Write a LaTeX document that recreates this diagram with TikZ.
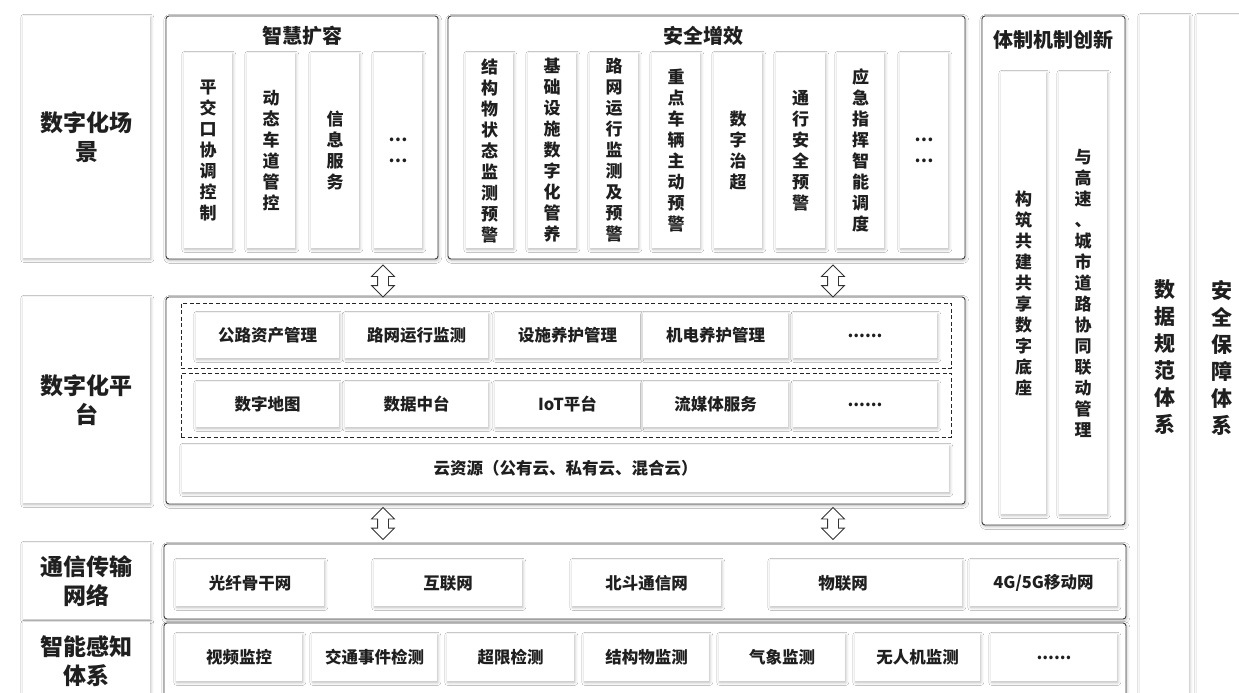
\documentclass[tikz,border=0pt]{standalone}
\usepackage{fontspec}
\setmainfont{Noto Sans CJK SC}
\usetikzlibrary{shapes.arrows,shadows.blur}
\tikzset{
  sh/.style={blur shadow={shadow xshift=0.8pt, shadow yshift=-1.4pt, shadow blur radius=3pt, shadow blur steps=6, shadow opacity=28}},
  lbl/.style={sh, fill=white, inner sep=0pt, align=center, text=black!88, font=\bfseries\fontsize{23}{29}\selectfont},
  sect/.style={sh, draw=black!75, line width=0.9pt, rounded corners=3pt, fill=white, inner sep=0pt},
  col/.style={sh, fill=white, inner sep=0pt, align=center, text=black!88, font=\bfseries\fontsize{17}{21}\selectfont},
  rcol/.style={sh, fill=white, inner sep=0pt, align=center, text=black!88, font=\bfseries\fontsize{21}{27}\selectfont},
  item/.style={sh, fill=white, inner sep=0pt, text=black!88, font=\bfseries\fontsize{16.5}{20}\selectfont},
  dbox/.style={draw=black!85, dash pattern=on 4pt off 2.5pt, line width=0.9pt, inner sep=0pt},
  ttl/.style={text=black!88, font=\bfseries\fontsize{20}{24}\selectfont},
  txt/.style={text=black!88, font=\bfseries\fontsize{16.5}{20}\selectfont},
  udarr/.style={shape=double arrow, rotate=90, draw=black!80, fill=white, line width=0.8pt, minimum height=32pt, inner sep=5pt, double arrow head extend=6pt},
}
% box by corners: \bx[extra]{style}{name}{x1}{y1}{x2}{y2}{text}
\newcommand\bx[8][]{\node[#2,#1, minimum width={(#6-#4)*1pt}, minimum height={(#7-#5)*1pt}] (#3) at ({(#4+#6)/2},{(#5+#7)/2}) {#8};}
\begin{document}
\begin{tikzpicture}[x=1pt,y=-1pt]
\fill[white] (0,0) rectangle (1239,693);
\useasboundingbox (0,0) rectangle (1239,693);

% left labels
\bx{lbl}{L1}{23}{16}{150}{258}{数字化场\\景}
\bx{lbl}{L2}{23}{297}{150}{503}{数字化平\\台}
\bx{lbl}{L3}{23}{543}{150}{619}{通信传输\\网络}
\bx{lbl}{L4}{23}{622}{150}{700}{智能感知\\体系}

% right columns
\bx{rcol}{R1}{1140}{15}{1189}{700}{数\\据\\规\\范\\体\\系}
\bx{rcol}{R2}{1197}{15}{1246}{700}{安\\全\\保\\障\\体\\系}

% section 1
\bx{sect}{S1}{166}{16}{438}{259}{}
\node[ttl] (T1) at (302,36) {智慧扩容};
\bx{col}{c11}{184}{53}{232}{248}{平\\交\\口\\协\\调\\控\\制}
\bx{col}{c12}{247}{53}{295}{248}{动\\态\\车\\道\\管\\控}
\bx{col}{c13}{311}{53}{359}{248}{信\\息\\服\\务}
\bx{col}{c14}{374}{53}{422}{248}{⋯\\⋯}

% section 2
\bx{sect}{S2}{448}{16}{965}{259}{}
\node[ttl] (T2) at (703,36) {安全增效};
\bx{col}{c21}{466}{53}{513}{248}{结\\构\\物\\状\\态\\监\\测\\预\\警}
\bx{col}{c22}{528}{53}{576}{248}{基\\础\\设\\施\\数\\字\\化\\管\\养}
\bx{col}{c23}{590}{53}{638}{248}{路\\网\\运\\行\\监\\测\\及\\预\\警}
\bx{col}{c24}{652}{53}{700}{248}{重\\点\\车\\辆\\主\\动\\预\\警}
\bx{col}{c25}{714}{53}{762}{248}{数\\字\\治\\超}
\bx{col}{c26}{776}{53}{825}{248}{通\\行\\安\\全\\预\\警}
\bx{col}{c27}{837}{53}{884}{248}{应\\急\\指\\挥\\智\\能\\调\\度}
\bx{col}{c28}{900}{53}{948}{248}{⋯\\⋯}

% section 3
\bx{sect}{S3}{982}{16}{1125}{525}{}
\node[ttl] (T3) at (1053.5,40) {体制机制创新};
\bx{col}{c31}{1001}{72}{1046}{514}{构\\筑\\共\\建\\共\\享\\数\\字\\底\\座}
\bx{col}{c32}{1059}{72}{1107}{514}{与\\高\\速\\、\\城\\市\\道\\路\\协\\同\\联\\动\\管\\理}

% platform
\bx{sect}{P}{166}{297}{965}{504}{}
\bx{dbox}{D1}{181}{303}{951}{368}{}
\bx{dbox}{D2}{181}{373}{951}{437}{}
\bx{item}{p11}{196}{313}{339}{358}{公路资产管理}
\bx{item}{p12}{345}{313}{488}{358}{路网运行监测}
\bx{item}{p13}{495}{313}{640}{358}{设施养护管理}
\bx{item}{p14}{643}{313}{788}{358}{机电养护管理}
\bx{item}{p15}{793}{313}{937}{358}{......}
\bx{item}{p21}{196}{382}{339}{427}{数字地图}
\bx{item}{p22}{345}{382}{488}{427}{数据中台}
\bx{item}{p23}{495}{382}{640}{427}{IoT平台}
\bx{item}{p24}{643}{382}{788}{427}{流媒体服务}
\bx{item}{p25}{793}{382}{937}{427}{......}
\bx{item}{cloud}{182}{445}{949}{492}{云资源（公有云、私有云、混合云）}

% communication row
\bx{sect}{C}{164}{544}{1126}{619}{}
\bx{item}{n1}{176}{560}{324}{606}{光纤骨干网}
\bx{item}{n2}{374}{560}{522}{606}{互联网}
\bx{item}{n3}{572}{560}{721}{606}{北斗通信网}
\bx{item}{n4}{770}{560}{962}{606}{}
\node[txt] (n4t) at (843,583) {物联网};
\bx{item}{n5}{970}{560}{1117}{606}{4G/5G移动网}

% sensing row
\bx{sect}{K}{164}{623}{1126}{705}{}
\bx{item}{k1}{176}{634}{302}{681}{视频监控}
\bx{item}{k2}{312}{634}{437}{681}{交通事件检测}
\bx{item}{k3}{447}{634}{574}{681}{超限检测}
\bx{item}{k4}{584}{634}{709}{681}{结构物监测}
\bx{item}{k5}{719}{634}{845}{681}{气象监测}
\bx{item}{k6}{855}{634}{980}{681}{无人机监测}
\bx{item}{k7}{991}{634}{1117}{681}{......}

% arrows
\node[udarr] (a1) at (383,281) {};
\node[udarr] (a2) at (833,281) {};
\node[udarr] (a3) at (383,523.5) {};
\node[udarr] (a4) at (833,523.5) {};
\end{tikzpicture}
\end{document}
